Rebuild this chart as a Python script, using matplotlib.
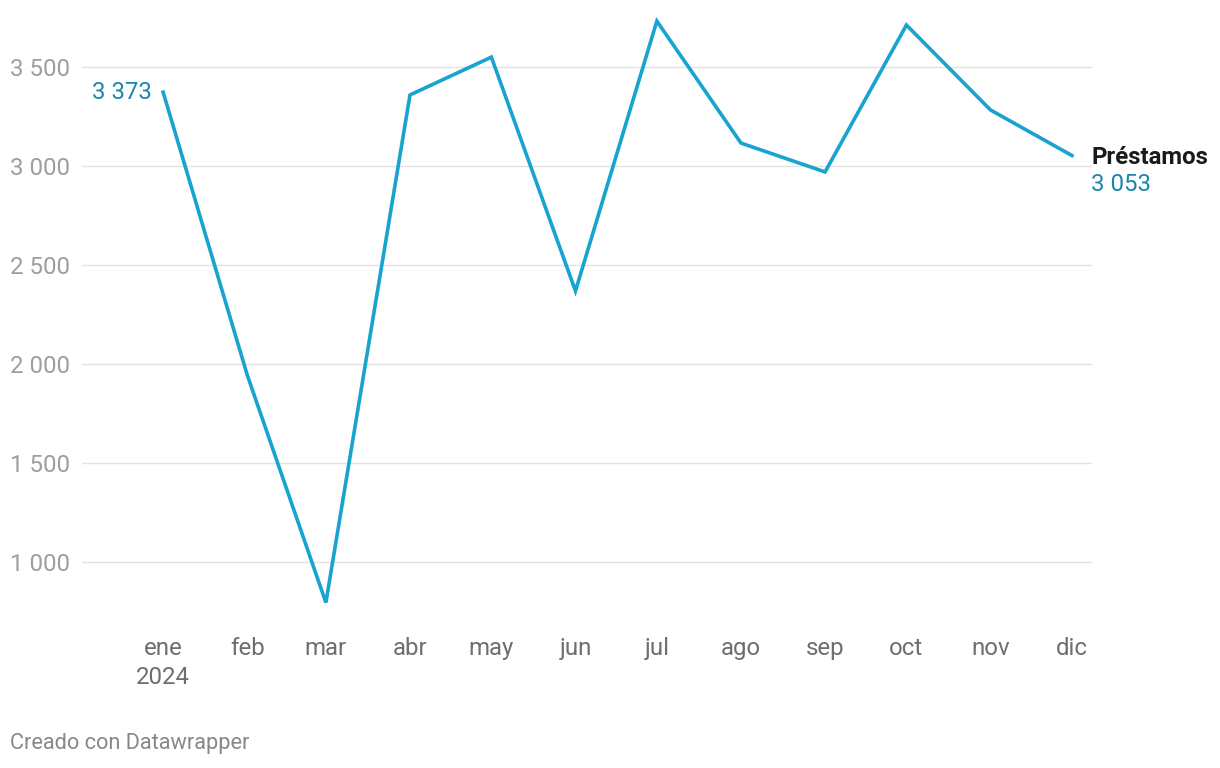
import matplotlib.pyplot as plt
import pandas as pd

plt.rcParams["font.family"] = ["Roboto", "DejaVu Sans"]

MONTHS = ["ene", "feb", "mar", "abr", "may", "jun", "jul", "ago", "sep", "oct", "nov", "dic"]
DATES = pd.date_range("2024-01-01", periods=12, freq="MS")
LOANS = [3373, 1945, 795, 3359, 3550, 2369, 3732, 3116, 2970, 3712, 3283, 3053]
Y_TICKS = [1000, 1500, 2000, 2500, 3000, 3500]
SERIES_NAME = "Préstamos"

COLOR_LINE = "#18a3d0"
COLOR_LABEL = "#1b86ad"
COLOR_GRID = "#e2e2e2"
FS = 17.3


def fmt(v):
    return f"{v:,}".replace(",", " ")


fig = plt.figure(figsize=(12.2, 7.68), dpi=100)
ax = fig.add_axes([82 / 1220, 1 - 620 / 768, 1010 / 1220, 610 / 768])

ax.plot(DATES, LOANS, color=COLOR_LINE, linewidth=2.6, solid_joinstyle="miter", zorder=3)

ax.set_xlim(DATES[0] - pd.Timedelta(days=29.9), DATES[0] + pd.Timedelta(days=342.4))
ax.set_ylim(707, 3788)
ax.set_yticks(Y_TICKS)
ax.set_yticklabels([fmt(v) for v in Y_TICKS])
ax.grid(axis="y", color=COLOR_GRID, linewidth=1)
ax.set_axisbelow(True)
for s in ax.spines.values():
    s.set_visible(False)

ax.set_xticks(DATES)
ax.set_xticklabels(["ene\n2024"] + MONTHS[1:], linespacing=1.35, va="top")
ax.tick_params(axis="x", length=0, pad=12, labelsize=FS, labelcolor="#6e6e6e")
ax.tick_params(axis="y", length=0, pad=9, labelsize=FS, labelcolor="#9e9e9e")

# end labels
ax.annotate(fmt(LOANS[0]), (DATES[0], LOANS[0]), xytext=(-8, 0), textcoords="offset points",
            ha="right", va="center", fontsize=FS, color=COLOR_LABEL)
ax.annotate(SERIES_NAME, (DATES[-1], LOANS[-1]), xytext=(14, -1.5), textcoords="offset points",
            ha="left", va="center", fontsize=FS, fontweight="bold", color="#1a1a1a",
            annotation_clip=False)
ax.annotate(fmt(LOANS[-1]), (DATES[-1], LOANS[-1]), xytext=(14, -21), textcoords="offset points",
            ha="left", va="center", fontsize=FS, color=COLOR_LABEL, annotation_clip=False)

fig.text(10 / 1220, 1 - 744 / 768, "Creado con Datawrapper", ha="left", va="center",
         fontsize=15.7, color="#888888")

fig.savefig("out.png", dpi=100)
